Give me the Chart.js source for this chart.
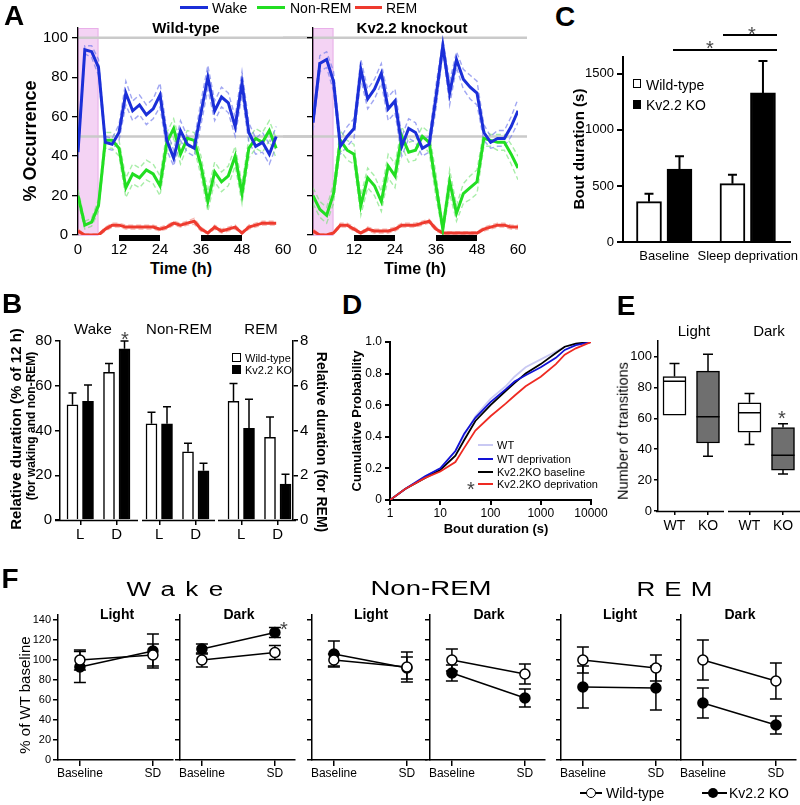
<!DOCTYPE html>
<html>
<head>
<meta charset="utf-8">
<script src="https://cdn.jsdelivr.net/npm/chart.js@4.4.1/dist/chart.umd.min.js"></script>
<style>
  body { margin: 0; background: #fff; }
  #fig { position: relative; width: 800px; height: 805px; overflow: hidden; background: #fff;
         font-family: "Liberation Sans", Arial, Helvetica, sans-serif; color: #000; }
  #fig canvas { position: absolute; }
  .t { position: absolute; white-space: nowrap; line-height: 1; }
  .sw { position: absolute; }
</style>
</head>
<body>
<div id="fig"></div>
<script>
/************************************************
 *  DATA
 ************************************************/
// Panel A - % occurrence in 2 h bins
const hoursWT = [0,2,4,6,8,10,12,14,16,18,20,22,24,26,28,30,32,34,36,38,40,42,44,46,48,50,52,54,56,58];
const wtWake    = [42,94,93,85,47,46,52,72,63,66,61,64,71,48,39,53,46,44,62,80,63,70,67,55,77,52,45,47,41,50];
const wtWakeSem = [3,2,3,4,3,3,4,6,5,5,5,5,6,5,4,5,4,4,6,6,5,5,5,5,6,5,4,5,5,5];
const wtNrem    = [20,5,6.5,15,48,48,44,24,31,29,33,31,25,47,54,41,49,48,35,17,32,27,30,40,21,44,49,47,53,44];
const wtNremSem = [3,2,2,3,4,4,4,5,5,5,5,5,5,5,5,5,4,4,5,5,5,5,5,5,5,5,5,5,5,5];
const wtRem     = [2,0,0,0,3,5,5,4,4,4,4,4,3,4,6,5,6,7,3,1,4,2,3,4,1,4,5,6,6,6];
const wtRemSem  = [1,0.5,0.5,0.5,1,1,1,1,1,1,1,1,1,1,1,1,1,1.5,1,0.5,1,1,1,1,0.5,1,1,1,1,1];

const hoursKO = [0,2,4,6,8,10,12,14,16,18,20,22,24,26,28,30,32,34,36,38,40,42,44,46,48,50,52,54,56,58,60];
const koWake    = [57,87,89,78,45,50,54,84,69,74,82,64,68,45,54,52,44,46,70,96,72,89,79,75,72,52,47,49,49,55,63];
const koWakeSem = [4,4,4,5,4,5,5,5,5,5,5,6,6,5,5,5,4,4,6,3,6,4,5,6,6,4,3,4,4,5,6];
const koNrem    = [20,13,10,21,48,43,41,15,29,25,17,35,30,50,42,43,50,47,25,3,27,11,21,24,27,49,48,47,47,41,34];
const koNremSem = [4,4,4,5,5,5,5,5,5,5,5,6,6,5,5,5,5,5,6,2,6,4,5,6,6,4,3,4,4,5,6];
const koRem     = [2,0,0,1,5,5,3,1,3,2,2,2,3,5,5,5,6,7,3,1,1,1,1,1,1,3,4,5,5,4,4];
const koRemSem  = [1,0.5,0.5,0.5,1,1,1,0.5,1,1,1,1,1,1,1,1,1,1,1,0.5,0.5,0.5,0.5,0.5,0.5,1,1,1,1,1,1];

// Panel B - relative duration, [Light, Dark]
const bStates = ['Wake', 'Non-REM', 'REM'];
const bPeriods = ['L', 'D'];
const bWT     = [[51.5, 66], [43, 30.5], [5.3, 3.7]];
const bWTerr  = [[5.3, 4], [5.2, 3.8], [0.8, 0.9]];
const bKO     = [[53, 76.5], [43, 22], [4.1, 1.6]];
const bKOerr  = [[7.3, 3.5], [7.6, 3.4], [1.3, 0.45]];

// Panel C - bout duration (s)
const cConds = ['Baseline', 'Sleep deprivation'];
const cWT    = [360, 520];
const cWTerr = [70, 80];
const cKO    = [650, 1330];
const cKOerr = [115, 285];
const cTicks = [0, 500, 1000, 1500];

// Panel D - cumulative probability of bout duration
const dDur    = [1, 2, 5, 10, 20, 30, 50, 100, 200, 300, 500, 1000, 2000, 3000, 5000, 10000];
const dWT     = [0, 0.07, 0.15, 0.20, 0.31, 0.41, 0.53, 0.64, 0.72, 0.78, 0.84, 0.89, 0.94, 0.97, 0.99, 1];
const dWTdep  = [0, 0.07, 0.15, 0.20, 0.31, 0.42, 0.52, 0.62, 0.70, 0.75, 0.79, 0.84, 0.90, 0.95, 0.98, 1];
const dKObase = [0, 0.07, 0.14, 0.19, 0.28, 0.38, 0.50, 0.60, 0.69, 0.74, 0.80, 0.86, 0.93, 0.97, 0.99, 1];
const dKOdep  = [0, 0.07, 0.14, 0.18, 0.24, 0.33, 0.44, 0.53, 0.61, 0.66, 0.72, 0.78, 0.86, 0.92, 0.96, 1];
const dTicks  = [1, 10, 100, 1000, 10000];

// Panel E - number of transitions, [Light, Dark]
const ePeriods = ['Light', 'Dark'];
const eWTmin = [62, 43],   eWTq1 = [62, 51],   eWTmed = [84, 63.5], eWTq3 = [87, 70],   eWTmax = [95.5, 76];
const eKOmin = [35.5, 24], eKOq1 = [44, 26.5], eKOmed = [61, 36],   eKOq3 = [90.5, 54], eKOmax = [101.5, 56.5];

// Panel F - % of WT baseline, each [Light, Dark] x [Baseline, SD]
const fConds = ['Baseline', 'SD'];
const fWakeWT = [[100, 105], [100, 107.5]], fWakeWTerr = [[10, 11], [7, 7]];
const fWakeKO = [[93, 109], [111, 127.5]],  fWakeKOerr = [[15.5, 17], [5, 5]];
const fNremWT = [[100, 93], [100, 86]],     fNremWTerr = [[6, 15], [11, 10]];
const fNremKO = [[106, 92], [87, 62]],      fNremKOerr = [[13, 11], [8, 9]];
const fRemWT  = [[100, 92], [100, 79]],     fRemWTerr  = [[13, 13], [20, 18]];
const fRemKO  = [[73, 72], [57, 35]],       fRemKOerr  = [[21, 22], [15, 9]];

/************************************************
 *  HELPERS
 ************************************************/
Chart.defaults.font.family = '"Liberation Sans", Arial, Helvetica, sans-serif';
Chart.defaults.color = '#000';

const fig = document.getElementById('fig');

function canvasAt(left, top, w, h) {
  const c = document.createElement('canvas');
  c.width = w; c.height = h;
  c.style.left = left + 'px'; c.style.top = top + 'px';
  c.style.width = w + 'px'; c.style.height = h + 'px';
  fig.appendChild(c);
  return c;
}

// text centred on (x, y) unless align = 'left'
function txt(s, x, y, css, rot, align) {
  const d = document.createElement('div');
  d.className = 't';
  d.textContent = s;
  d.style.left = x + 'px';
  d.style.top = y + 'px';
  d.style.cssText += css || '';
  const tx = align === 'left' ? '0' : '-50%';
  d.style.transform = `translate(${tx},-50%)` + (rot ? ` rotate(${rot}deg)` : '');
  fig.appendChild(d);
  return d;
}

// significance star, (x, y) = centre of the glyph
function star(x, y) { return txt('*', x, y + 4.5, 'font-size:20px;color:#444;'); }

function box(x, y, w, h, css) {
  const d = document.createElement('div');
  d.className = 'sw';
  d.style.left = x + 'px'; d.style.top = y + 'px';
  d.style.width = w + 'px'; d.style.height = h + 'px';
  d.style.cssText += css || '';
  fig.appendChild(d);
  return d;
}

function baseOptions(padding) {
  return {
    responsive: false, animation: false, devicePixelRatio: 1,
    layout: { padding },
    plugins: { legend: { display: false }, tooltip: { enabled: false } },
  };
}

function yAxis(o) {
  const ax = {
    type: 'linear', position: o.position || 'left', min: o.min, max: o.max,
    afterFit: (s) => { s.width = o.width; },
    border: { display: true, color: '#000', width: o.lw || 1.5 },
    grid: { display: true, drawOnChartArea: false, drawTicks: true, tickLength: o.tick || 5, color: '#000', lineWidth: o.lw || 1.5 },
    ticks: { stepSize: o.step, includeBounds: false, font: { size: o.font }, padding: o.pad == null ? 3 : o.pad, color: '#000' },
  };
  if (o.at) ax.afterBuildTicks = (s) => { s.ticks = o.at.map(v => ({ value: v })); };
  if (o.cb) ax.ticks.callback = o.cb;
  return ax;
}

function xAxis(o) {
  const ax = {
    type: o.type || 'linear', position: 'bottom', min: o.min, max: o.max, offset: false,
    afterFit: (s) => { s.height = o.height; },
    border: { display: !!o.border, color: '#000', width: o.lw || 1.5 },
    grid: { display: !!o.tick, offset: false, drawOnChartArea: false, drawTicks: true, tickLength: o.tick || 0, color: '#000', lineWidth: o.lw || 1.5 },
    ticks: { font: { size: o.font }, padding: o.pad || 0, autoSkip: false, maxRotation: 0, minRotation: 0, color: '#000' },
  };
  if (o.step) ax.ticks.stepSize = o.step;
  if (o.at) ax.afterBuildTicks = (s) => { s.ticks = o.at.map(v => ({ value: v })); };
  if (o.labels) ax.ticks.callback = (v, i) => o.labels[i];
  return ax;
}

// error bars from dataset.errors, drawn through the dataset's y scale
function drawErrors(chart, o) {
  const ctx = chart.ctx;
  ctx.save();
  ctx.strokeStyle = '#000';
  ctx.lineWidth = o.width || 1.5;
  chart.data.datasets.forEach((ds, i) => {
    if (!ds.errors) return;
    const meta = chart.getDatasetMeta(i);
    const ys = chart.scales[meta.yAxisID];
    meta.data.forEach((el, j) => {
      const v = ds.data[j].y, e = ds.errors[j], half = o.cap / 2;
      const top = ys.getPixelForValue(v + e);
      const bot = ys.getPixelForValue(o.upOnly ? v : v - e);
      ctx.beginPath();
      ctx.moveTo(el.x, bot); ctx.lineTo(el.x, top);
      ctx.moveTo(el.x - half, top); ctx.lineTo(el.x + half, top);
      if (!o.upOnly) { ctx.moveTo(el.x - half, bot); ctx.lineTo(el.x + half, bot); }
      ctx.stroke();
    });
  });
  ctx.restore();
}
const errorBars = {
  id: 'errorBars',
  beforeDatasetsDraw(chart, args, o) { if (o.under) drawErrors(chart, o); },
  afterDatasetsDraw(chart, args, o) { if (!o.under) drawErrors(chart, o); },
};

// broken x axis (several separate segments)
const axisSegments = {
  id: 'axisSegments',
  afterDraw(chart, args, o) {
    const { ctx, chartArea: a, scales: { x } } = chart;
    ctx.save();
    ctx.strokeStyle = '#000';
    ctx.lineWidth = o.width || 1.5;
    o.segs.forEach(([s, e]) => {
      ctx.beginPath();
      ctx.moveTo(x.getPixelForValue(s), a.bottom + 0.5);
      ctx.lineTo(x.getPixelForValue(e), a.bottom + 0.5);
      ctx.stroke();
    });
    ctx.restore();
  },
};

// panel A decorations: sleep deprivation shading, reference lines, dark-phase bars
const timeDecor = {
  id: 'timeDecor',
  beforeDraw(chart, args, o) {
    const { ctx, chartArea: a, scales: { x, y } } = chart;
    ctx.save();
    const x1 = x.getPixelForValue(o.shade[0]), x2 = x.getPixelForValue(o.shade[1]);
    ctx.fillStyle = 'rgba(240,196,240,0.75)';
    ctx.fillRect(x1, a.top, x2 - x1, a.bottom - a.top);
    ctx.strokeStyle = 'rgba(225,150,225,0.6)';
    ctx.lineWidth = 1;
    ctx.strokeRect(x1 + 0.5, a.top + 0.5, x2 - x1 - 1, a.bottom - a.top);
    ctx.strokeStyle = '#cacaca';
    ctx.lineWidth = 2.5;
    o.refs.forEach(v => {
      const py = y.getPixelForValue(v);
      ctx.beginPath();
      ctx.moveTo(o.refFrom == null ? a.left : o.refFrom, py);
      ctx.lineTo(o.refTo, py);
      ctx.stroke();
    });
    ctx.restore();
  },
  afterDraw(chart, args, o) {
    const { ctx, chartArea: a, scales: { x } } = chart;
    ctx.save();
    ctx.fillStyle = '#000';
    o.dark.forEach(([s, e]) => {
      const p1 = x.getPixelForValue(s), p2 = x.getPixelForValue(e);
      ctx.fillRect(p1, a.bottom, p2 - p1, 6);
    });
    ctx.restore();
  },
};

// whiskers and medians on top of floating bars
const boxWhiskers = {
  id: 'boxWhiskers',
  afterDatasetsDraw(chart, args, o) {
    const ctx = chart.ctx, y = chart.scales.y;
    ctx.save();
    ctx.strokeStyle = '#000';
    ctx.lineWidth = 1.5;
    chart.data.datasets.forEach((ds, i) => {
      chart.getDatasetMeta(i).data.forEach((el, j) => {
        const x = el.x, hw = el.width / 2, cap = o.cap / 2;
        const pMed = y.getPixelForValue(ds.medians[j]);
        const pQ1 = y.getPixelForValue(ds.data[j].y[0]), pQ3 = y.getPixelForValue(ds.data[j].y[1]);
        const pLo = y.getPixelForValue(ds.lows[j]), pHi = y.getPixelForValue(ds.highs[j]);
        ctx.beginPath();
        ctx.moveTo(x - hw, pMed); ctx.lineTo(x + hw, pMed);
        if (pHi < pQ3) { ctx.moveTo(x, pQ3); ctx.lineTo(x, pHi); ctx.moveTo(x - cap, pHi); ctx.lineTo(x + cap, pHi); }
        if (pLo > pQ1) { ctx.moveTo(x, pQ1); ctx.lineTo(x, pLo); ctx.moveTo(x - cap, pLo); ctx.lineTo(x + cap, pLo); }
        ctx.stroke();
      });
    });
    ctx.restore();
  },
};

/************************************************
 *  PANEL A - TIME COURSE
 ************************************************/
const stateColors = [
  { main: '#1b2fd8', light: 'rgba(110,120,235,0.65)' },
  { main: '#22de22', light: 'rgba(110,225,110,0.6)' },
  { main: '#ee3a2e', light: 'rgba(240,130,120,0.6)' },
];

function timeCourse(canvas, hours, series, yWidth, pad, showY, refFrom, refTo) {
  const mains = [], bands = [];
  series.forEach((s, k) => {
    const col = stateColors[k];
    mains.push({ data: hours.map((h, i) => ({ x: h, y: s.mean[i] })), borderColor: col.main, borderWidth: 3, pointRadius: 0, order: 0 });
    [1, -1].forEach(sign => {
      bands.push({ data: hours.map((h, i) => ({ x: h, y: s.mean[i] + sign * s.sem[i] })), borderColor: col.light,
                   borderWidth: 1.4, borderDash: [5, 3], pointRadius: 0, order: 1 });
    });
  });
  const options = baseOptions(pad);
  options.scales = {
    x: xAxis({ min: 0, max: 60, step: 12, height: 25, font: 15, pad: 6 }),
    y: yAxis({ min: 0, max: 105, step: 20, width: yWidth, font: 15, tick: 6, pad: 4, lw: 1.3, cb: showY ? undefined : () => '' }),
  };
  options.plugins.timeDecor = { shade: [0, 6], refs: [100, 50], refFrom, refTo, dark: [[12, 24], [36, 48]] };
  new Chart(canvas, { type: 'line', data: { datasets: mains.concat(bands) }, options, plugins: [timeDecor] });
}

timeCourse(canvasAt(0, 8, 313, 252), hoursWT,
  [{ mean: wtWake, sem: wtWakeSem }, { mean: wtNrem, sem: wtNremSem }, { mean: wtRem, sem: wtRemSem }],
  78, { top: 20, right: 30, left: 0, bottom: 0 }, true, null, 313);
timeCourse(canvasAt(283, 8, 255, 252), hoursKO,
  [{ mean: koWake, sem: koWakeSem }, { mean: koNrem, sem: koNremSem }, { mean: koRem, sem: koRemSem }],
  30, { top: 20, right: 20, left: 0, bottom: 0 }, false, 0, 244);

/************************************************
 *  PANEL B - RELATIVE DURATION BARS
 ************************************************/
const bGroupStart = [12.5, 91.5, 173.5], bPeriodStep = 36.5, bGenoStep = 15.5;
function bX(g, p, k) { return bGroupStart[g] + p * bPeriodStep + k * bGenoStep; }
function bSet(vals, errs, k, states, axis) {
  const data = [], e = [];
  states.forEach(g => bPeriods.forEach((p, pi) => { data.push({ x: bX(g, pi, k), y: vals[g][pi] }); e.push(errs[g][pi]); }));
  return { data, errors: e, yAxisID: axis, grouped: false, barThickness: 11,
           backgroundColor: k ? '#000' : '#fff', borderColor: '#000', borderWidth: 1.5 };
}
(function () {
  const tickAt = [], tickLab = [];
  bStates.forEach((s, g) => bPeriods.forEach((p, pi) => { tickAt.push(bX(g, pi, 0) + bGenoStep / 2); tickLab.push(p); }));
  const options = baseOptions({ top: 23, right: 0, left: 0, bottom: 0 });
  options.scales = {
    x: xAxis({ min: 0, max: 233, at: tickAt, labels: tickLab, height: 25, font: 15, tick: 5, pad: 1 }),
    y: yAxis({ min: 0, max: 80, step: 20, width: 60, font: 15, tick: 5, pad: 3 }),
    y2: yAxis({ position: 'right', min: 0, max: 8, step: 2, width: 22, font: 15, tick: 5, pad: 2 }),
  };
  options.plugins.errorBars = { cap: 8, upOnly: true, width: 1.5 };
  options.plugins.axisSegments = { segs: [[-5, 78], [82, 155], [158, 236]], width: 1.5 };
  new Chart(canvasAt(0, 318, 315, 227), {
    type: 'bar',
    data: { datasets: [
      bSet(bWT, bWTerr, 0, [0, 1], 'y'), bSet(bKO, bKOerr, 1, [0, 1], 'y'),
      bSet(bWT, bWTerr, 0, [2], 'y2'), bSet(bKO, bKOerr, 1, [2], 'y2'),
    ] },
    options, plugins: [errorBars, axisSegments],
  });
})();

/************************************************
 *  PANEL C - BOUT DURATION BARS
 ************************************************/
const cGroupStart = [26, 109.5], cGenoStep = 30.5;
(function () {
  const mk = (vals, errs, k) => ({
    data: vals.map((v, g) => ({ x: cGroupStart[g] + k * cGenoStep, y: v })), errors: errs,
    grouped: false, barThickness: 25, backgroundColor: k ? '#000' : '#fff', borderColor: '#000', borderWidth: 2,
  });
  const options = baseOptions({ top: 17, right: 20, left: 0, bottom: 0 });
  options.scales = {
    x: xAxis({ min: 0, max: 167, at: cGroupStart.map(s => s + cGenoStep / 2), labels: cConds, height: 28, font: 13, pad: 7, border: true, lw: 2 }),
    y: yAxis({ min: 0, max: 1650, at: cTicks, width: 78, font: 13, tick: 6, pad: 3, lw: 2, cb: v => String(v) }),
  };
  options.plugins.errorBars = { cap: 9, upOnly: true, width: 2 };
  new Chart(canvasAt(545, 40, 265, 230), {
    type: 'bar', data: { datasets: [mk(cWT, cWTerr, 0), mk(cKO, cKOerr, 1)] }, options, plugins: [errorBars],
  });
})();

/************************************************
 *  PANEL D - CUMULATIVE PROBABILITY
 ************************************************/
(function () {
  const line = (ys, color, order) => ({ data: dDur.map((d, i) => ({ x: d, y: ys[i] })), borderColor: color,
                                         borderWidth: 1.8, pointRadius: 0, order });
  const options = baseOptions({ top: 22, right: 20, left: 0, bottom: 0 });
  options.scales = {
    x: xAxis({ type: 'logarithmic', min: 1, max: 10000, at: dTicks, labels: dTicks.map(String), height: 40, font: 12, tick: 5, pad: 1, border: true, lw: 2 }),
    y: yAxis({ min: 0, max: 1, step: 0.2, width: 45, font: 12, tick: 5, pad: 3, lw: 2, cb: v => (v === 0 ? '0' : v.toFixed(1)) }),
  };
  new Chart(canvasAt(345, 320, 266, 220), {
    type: 'line',
    data: { datasets: [line(dKOdep, '#ee2a22', 0), line(dWTdep, '#1212d6', 1), line(dKObase, '#000', 2), line(dWT, '#c9c9f3', 3)] },
    options,
  });
})();

/************************************************
 *  PANEL E - TRANSITIONS BOX PLOT
 ************************************************/
const eGroupStart = [16.5, 91.5], eGenoStep = 33.5;
(function () {
  const mk = (q1, q3, med, lo, hi, k) => ({
    data: q1.map((v, g) => ({ x: eGroupStart[g] + k * eGenoStep, y: [v, q3[g]] })),
    medians: med, lows: lo, highs: hi, grouped: false, barThickness: 23, borderSkipped: false,
    backgroundColor: k ? '#6f6f6f' : '#fff', borderColor: '#000', borderWidth: 1.5,
  });
  const ticks = [], labs = [];
  eGroupStart.forEach(s => { ticks.push(s, s + eGenoStep); labs.push('WT', 'KO'); });
  const options = baseOptions({ top: 21, right: 3, left: 0, bottom: 0 });
  options.scales = {
    x: xAxis({ min: 0, max: 139, at: ticks, labels: labs, height: 29, font: 14, tick: 4, pad: 3 }),
    y: yAxis({ min: 0, max: 110, step: 20, width: 53, font: 13, tick: 4, pad: 2, lw: 1.5 }),
  };
  options.plugins.boxWhiskers = { cap: 10 };
  options.plugins.axisSegments = { segs: [[-2, 66], [70, 145]], width: 1.5 };
  new Chart(canvasAt(605, 320, 195, 220), {
    type: 'bar',
    data: { datasets: [mk(eWTq1, eWTq3, eWTmed, eWTmin, eWTmax, 0), mk(eKOq1, eKOq3, eKOmed, eKOmin, eKOmax, 1)] },
    options, plugins: [boxWhiskers, axisSegments],
  });
})();

/************************************************
 *  PANEL F - % OF WT BASELINE
 ************************************************/
function fChart(x0, first, wt, wtErr, ko, koErr) {
  const yW = first ? 43 : 12;
  const mk = (vals, errs, filled) => ({
    data: vals.map((v, i) => ({ x: i, y: v })), errors: errs,
    borderColor: '#000', borderWidth: 1.5, pointRadius: 5, pointBorderWidth: 1.5,
    pointBackgroundColor: filled ? '#000' : '#fff', pointBorderColor: '#000',
  });
  const options = baseOptions({ top: 20, right: 8, left: 0, bottom: 0 });
  options.scales = {
    x: xAxis({ min: -0.3, max: 1.275, at: [0, 1], labels: fConds, height: 25, font: 12, tick: 6, pad: 0, border: true, lw: 1.5 }),
    y: yAxis({ min: 0, max: 145, step: 20, width: yW, font: 11, tick: 5, pad: 2, lw: 1.5, cb: first ? undefined : () => '' }),
  };
  options.plugins.errorBars = { cap: 12, upOnly: false, under: true, width: 1.5 };
  new Chart(canvasAt(x0 - yW, 595, yW + 115 + 8, 190), {
    type: 'line', data: { datasets: [mk(wt, wtErr, false), mk(ko, koErr, true)] }, options, plugins: [errorBars],
  });
}
const fX0 = [58, 180, 312, 430, 561, 681];
fChart(fX0[0], true,  fWakeWT[0], fWakeWTerr[0], fWakeKO[0], fWakeKOerr[0]);
fChart(fX0[1], false, fWakeWT[1], fWakeWTerr[1], fWakeKO[1], fWakeKOerr[1]);
fChart(fX0[2], false, fNremWT[0], fNremWTerr[0], fNremKO[0], fNremKOerr[0]);
fChart(fX0[3], false, fNremWT[1], fNremWTerr[1], fNremKO[1], fNremKOerr[1]);
fChart(fX0[4], false, fRemWT[0],  fRemWTerr[0],  fRemKO[0],  fRemKOerr[0]);
fChart(fX0[5], false, fRemWT[1],  fRemWTerr[1],  fRemKO[1],  fRemKOerr[1]);

/************************************************
 *  TEXT, LEGENDS, ANNOTATIONS
 ************************************************/
const letter = 'font-size:28px;font-weight:bold;';
txt('A', 14, 16, letter);
txt('B', 12, 304, letter);
txt('C', 565, 17, letter);
txt('D', 352, 305, letter);
txt('E', 626, 306, letter);
txt('F', 10, 579, letter);

// A
box(180, 6, 28, 3, 'background:' + stateColors[0].main);
txt('Wake', 212, 8, 'font-size:14px;', 0, 'left');
box(257, 6, 28, 3, 'background:' + stateColors[1].main);
txt('Non-REM', 290, 8, 'font-size:14px;', 0, 'left');
box(355, 6, 27, 3, 'background:' + stateColors[2].main);
txt('REM', 386, 8, 'font-size:14px;', 0, 'left');
txt('Wild-type', 186, 27, 'font-size:15px;font-weight:bold;');
txt('Kv2.2 knockout', 412, 27, 'font-size:15px;font-weight:bold;');
txt('% Occurrence', 30, 141, 'font-size:18px;font-weight:bold;', -90);
txt('Time (h)', 181, 269, 'font-size:16px;font-weight:bold;');
txt('Time (h)', 415, 269, 'font-size:16px;font-weight:bold;');

// B
txt('Wake', 93, 328, 'font-size:15px;');
txt('Non-REM', 179, 328, 'font-size:15px;');
txt('REM', 261, 328, 'font-size:15px;');
star(125, 334);
box(232, 353, 9, 9, 'border:1.2px solid #000;background:#fff;box-sizing:border-box;');
txt('Wild-type', 245, 358, 'font-size:11px;', 0, 'left');
box(232, 365, 9, 9, 'background:#000;');
txt('Kv2.2 KO', 245, 370, 'font-size:11px;', 0, 'left');
txt('Relative duration (% of 12 h)', 15, 429, 'font-size:15px;font-weight:bold;', -90);
txt('(for waking and non-REM)', 31, 426, 'font-size:12px;font-weight:bold;', -90);
txt('Relative duration (for REM)', 322, 442, 'font-size:14px;font-weight:bold;', 90);

// C
box(633, 79, 8, 9, 'border:1.5px solid #000;background:#fff;box-sizing:border-box;');
txt('Wild-type', 646, 85, 'font-size:14px;', 0, 'left');
box(633, 100, 8, 9, 'background:#000;');
txt('Kv2.2 KO', 646, 105, 'font-size:14px;', 0, 'left');
box(673, 49, 104, 2, 'background:#000;');
box(723, 34, 54, 2, 'background:#000;');
star(710, 43);
star(752, 29);
txt('Bout duration (s)', 578, 149, 'font-size:15px;font-weight:bold;', -90);

// D
const dLeg = [['WT', '#c9c9f3', 445], ['WT deprivation', '#1212d6', 459], ['Kv2.2KO baseline', '#000', 472], ['Kv2.2KO deprivation', '#ee2a22', 484]];
dLeg.forEach(([s, c, y]) => {
  box(478, y - 1, 15, 2, 'background:' + c);
  txt(s, 497, y, 'font-size:11px;', 0, 'left');
});
star(471, 484);
txt('Cumulative Probability', 356, 421, 'font-size:13px;font-weight:bold;', -90);
txt('Bout duration (s)', 496, 528, 'font-size:13px;font-weight:bold;');

// E
txt('Light', 694, 330, 'font-size:15px;');
txt('Dark', 769, 330, 'font-size:15px;');
star(782, 413);
txt('Number of transitions', 623, 431, 'font-size:14.5px;', -90);

// F
const big = 'font-size:20px;display:inline-block;';
txt('Wake', 180, 589, big + 'letter-spacing:8px;transform-origin:center;').style.transform = 'translate(-50%,-50%) scaleX(1.3)';
txt('Non-REM', 431, 588, big).style.transform = 'translate(-50%,-50%) scaleX(1.38)';
txt('REM', 679, 589, big + 'letter-spacing:7px;').style.transform = 'translate(-50%,-50%) scaleX(1.3)';
['Light', 'Dark', 'Light', 'Dark', 'Light', 'Dark'].forEach((s, i) => txt(s, fX0[i] + 59, 614, 'font-size:14px;font-weight:bold;'));
star(284, 624);
txt('% of WT baseline', 24, 695, 'font-size:15px;', -90);
box(580, 792, 22, 1.5, 'background:#000;');
box(585.5, 787.5, 10, 10, 'border:1.5px solid #000;border-radius:50%;background:#fff;box-sizing:border-box;');
txt('Wild-type', 606, 793, 'font-size:14px;', 0, 'left');
box(702, 792, 25, 1.5, 'background:#000;');
box(708, 787.5, 10, 10, 'border-radius:50%;background:#000;');
txt('Kv2.2 KO', 729, 793, 'font-size:14px;', 0, 'left');
</script>
</body>
</html>
